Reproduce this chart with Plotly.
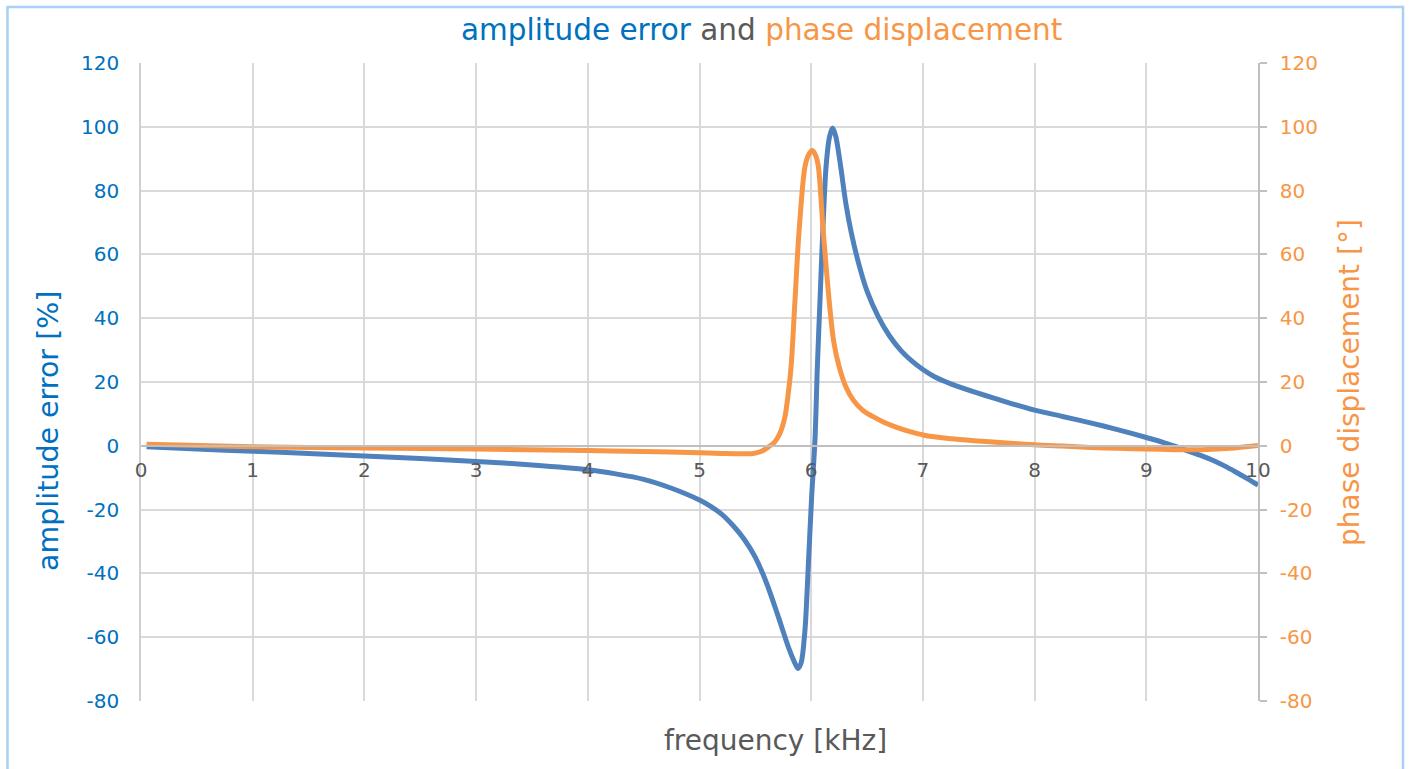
import plotly.graph_objects as go

# ---- data ----
freq_amp = [0.05, 0.5, 1.0, 1.5, 2.0, 2.5, 3.0, 3.5, 4.0, 4.25, 4.5, 4.75, 5.0, 5.1, 5.2, 5.3,
            5.4, 5.5, 5.6, 5.7, 5.8, 5.85, 5.88, 5.91, 5.944, 5.975, 6.004, 6.034, 6.055, 6.079,
            6.103, 6.133, 6.165, 6.192, 6.22, 6.264, 6.31, 6.36, 6.43, 6.5, 6.6, 6.7, 6.8,
            6.9, 7.0, 7.1, 7.25, 7.5, 7.75, 8.0, 8.25, 8.5, 8.75, 9.0, 9.15, 9.3, 9.48, 9.6,
            9.7, 9.8, 9.9, 10.0]
amp_error = [-0.3, -1.0, -1.7, -2.4, -3.2, -4.0, -4.9, -6.0, -7.5, -8.8, -10.5, -13.3, -17.0,
             -19.0, -21.5, -25.0, -29.3, -35.0, -43.0, -53.0, -63.5, -67.8, -69.8, -68.0,
             -57.9, -36.9, -16.0, 2.0, 24.7, 45.7, 66.6, 87.5, 97.0, 99.6, 97.0, 87.5, 76.0,
             66.6, 56.5, 48.5, 40.5, 34.5, 30.0, 26.6, 23.9, 21.7, 19.4, 16.4, 13.7, 11.2, 9.2,
             7.2, 5.0, 2.6, 1.1, -0.7, -2.9, -4.6, -6.3, -8.2, -10.2, -12.3]

freq_phase = [0.05, 1.0, 2.0, 3.0, 4.0, 4.5, 5.0, 5.2, 5.35, 5.48, 5.55, 5.6, 5.676, 5.72,
              5.765, 5.795, 5.82, 5.855, 5.89, 5.944, 5.98, 6.01, 6.04, 6.064, 6.109, 6.16,
              6.2, 6.25, 6.31, 6.375, 6.46, 6.55, 6.65, 6.765, 6.9, 7.0, 7.25, 7.5, 7.75, 8.0,
              8.25, 8.5, 8.75, 9.0, 9.25, 9.5, 9.75, 10.0]
phase_disp = [0.5, -0.3, -0.7, -1.0, -1.5, -1.8, -2.2, -2.4, -2.5, -2.4, -1.8, -0.8, 1.3, 3.9,
              9.1, 16.5, 24.8, 45.7, 66.6, 87.5, 91.5, 92.6, 91.0, 87.5, 66.6, 45.7, 33.0,
              24.8, 18.5, 14.4, 11.2, 9.2, 7.4, 5.8, 4.3, 3.4, 2.2, 1.5, 0.9, 0.3, -0.1, -0.5,
              -0.8, -1.0, -1.2, -1.2, -0.8, 0.1]

y_ticks = [-80, -60, -40, -20, 0, 20, 40, 60, 80, 100, 120]
y_tick_text = [str(v) for v in y_ticks]
x_ticks = [0, 1, 2, 3, 4, 5, 6, 7, 8, 9, 10]
x_tick_text = [str(v) for v in x_ticks]

BLUE_TXT = "#0070C0"
ORANGE_TXT = "#F79646"
BLUE_LINE = "#4F81BD"
ORANGE_LINE = "#F79646"
GRAY_TXT = "#595959"
GRID = "#D9D9D9"
FONT = "DejaVu Sans"

W, H = 1411, 769
L, R, T, B = 141, 1258, 63, 701


def px(xp):
    return (xp - L) / (R - L)


def py(yp):
    return (B - yp) / (B - T)


fig = go.Figure()
fig.add_trace(go.Scatter(x=freq_amp, y=amp_error, mode="lines", name="amplitude error",
                         line=dict(color=BLUE_LINE, width=5, shape="spline", smoothing=0.8)))
fig.add_trace(go.Scatter(x=freq_phase, y=phase_disp, mode="lines", name="phase displacement",
                         yaxis="y2",
                         line=dict(color=ORANGE_LINE, width=5, shape="spline", smoothing=0.8)))

fig.update_layout(
    width=W, height=H,
    margin=dict(l=L, r=W - R, t=T, b=H - B),
    paper_bgcolor="white", plot_bgcolor="white",
    showlegend=False,
    font=dict(family=FONT, color=GRAY_TXT),
    xaxis=dict(range=[0, 10], tickvals=x_ticks, ticktext=x_tick_text,
               showgrid=True, gridcolor=GRID, gridwidth=1.5,
               zeroline=False, showline=True, linecolor="#BFBFBF", linewidth=1.5,
               anchor="free", position=0.4, ticks="", ticklabelstandoff=6,
               tickfont=dict(size=20, color=GRAY_TXT, family=FONT)),
    yaxis=dict(range=[-80, 120], tickvals=y_ticks, ticktext=y_tick_text,
               showgrid=True, gridcolor=GRID, gridwidth=1.5,
               zeroline=False, showline=True, linecolor="#D0D0D0", linewidth=1.5,
               ticks="", ticklabelstandoff=16,
               tickfont=dict(size=20, color=BLUE_TXT, family=FONT)),
    yaxis2=dict(range=[-80, 120], tickvals=y_ticks, ticktext=y_tick_text,
                overlaying="y", side="right",
                showgrid=False, zeroline=False, showline=True, linecolor="#BFBFBF", linewidth=1.5,
                ticks="outside", ticklen=7, tickcolor="#BFBFBF", tickwidth=1.5,
                ticklabelstandoff=9,
                tickfont=dict(size=20, color=ORANGE_TXT, family=FONT)),
)

annotations = [
    dict(x=px(761.5), y=py(30), xref="paper", yref="paper", showarrow=False,
         xanchor="center", yanchor="middle",
         text=f"<span style='color:{BLUE_TXT}'>amplitude error</span> "
              f"<span style='color:{GRAY_TXT}'>and</span> "
              f"<span style='color:{ORANGE_TXT}'>phase displacement</span>",
         font=dict(size=29.5, family=FONT)),
    dict(x=px(775), y=py(741), xref="paper", yref="paper", showarrow=False,
         xanchor="center", yanchor="middle", text="frequency [kHz]",
         font=dict(size=28, color=GRAY_TXT, family=FONT)),
    dict(x=px(48), y=py(431), xref="paper", yref="paper", showarrow=False,
         xanchor="center", yanchor="middle", textangle=-90, text="amplitude error [%]",
         font=dict(size=28.5, color=BLUE_TXT, family=FONT)),
    dict(x=px(1350), y=py(383), xref="paper", yref="paper", showarrow=False,
         xanchor="center", yanchor="middle", textangle=-90, text="phase displacement [°]",
         font=dict(size=28, color=ORANGE_TXT, family=FONT)),
]
fig.update_layout(annotations=annotations)

# chart border (light blue frame)
fig.add_shape(type="path", xref="paper", yref="paper",
              path=f"M {px(7.5)} {py(780)} L {px(7.5)} {py(7)} L {px(1403)} {py(7)} L {px(1403)} {py(780)}",
              line=dict(color="#A9D0F5", width=2.5), layer="above")

fig.write_html(
    "out.html",
    config={"displayModeBar": False},
    post_script="document.body.style.margin='0';document.body.style.overflow='hidden';",
)
